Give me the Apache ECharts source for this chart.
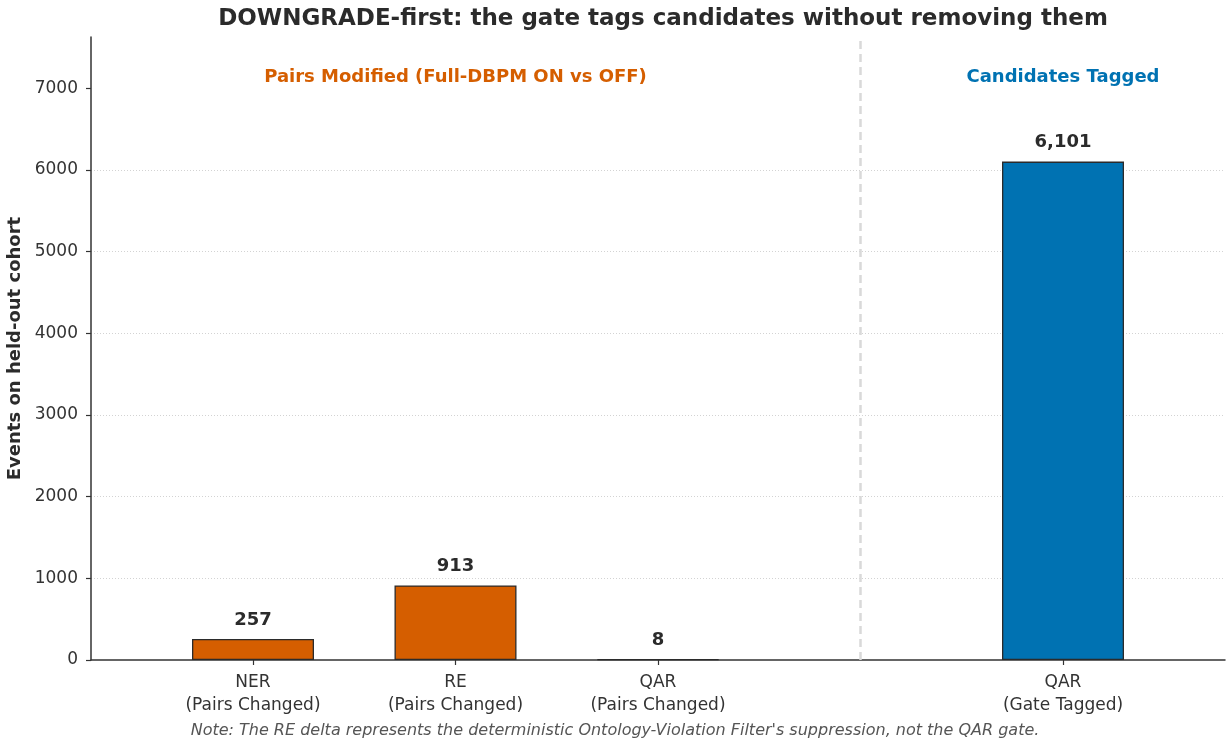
<!DOCTYPE html>
<html>
<head>
<meta charset="utf-8">
<script src="https://cdn.jsdelivr.net/npm/echarts@6/dist/echarts.min.js"></script>
<style>html,body{margin:0;padding:0;background:#fff;}#chart{width:1230px;height:744px;}</style>
</head>
<body>
<div id="chart"></div>
<script>
const categories = ['NER\n(Pairs Changed)', 'RE\n(Pairs Changed)', 'QAR\n(Pairs Changed)', 'QAR\n(Gate Tagged)'];
const positions = [0, 1, 2, 4];
const values = [257, 913, 8, 6101];
const barColors = ['#D55E00', '#D55E00', '#D55E00', '#0072B2'];
const yTicks = [0, 1000, 2000, 3000, 4000, 5000, 6000, 7000];
const groupLabels = ['Pairs Modified (Full-DBPM ON vs OFF)', 'Candidates Tagged'];
const groupPositions = [1, 4];
const groupColors = ['#D55E00', '#0072B2'];
const dividerPos = 3;

const FONT = 'DejaVu Sans';
const chart = echarts.init(document.getElementById('chart'), null, {renderer: 'canvas'});
const yMax = Math.max(...values) * 1.25;

const labelMap = {};
positions.forEach((p, i) => labelMap[p] = categories[i]);

chart.setOption({
  animation: false,
  backgroundColor: '#ffffff',
  textStyle: {fontFamily: FONT},
  title: {
    text: 'DOWNGRADE-first: the gate tags candidates without removing them',
    left: 658, textAlign: 'center', top: 3,
    textStyle: {fontFamily: FONT, fontSize: 23, fontWeight: 'bold', color: '#2b2b2b'}
  },
  graphic: [{
    type: 'text', left: 'center', top: 723,
    style: {
      text: "Note: The RE delta represents the deterministic Ontology-Violation Filter's suppression, not the QAR gate.",
      font: 'italic 16px "DejaVu Sans"', fill: '#555555'
    }
  }],
  grid: {left: 91, right: 5, top: 37, bottom: 84, containLabel: false, outerBoundsMode: 'none'},
  xAxis: {
    type: 'value', min: -0.8, max: 4.8,
    axisLine: {show: true, onZero: false, lineStyle: {color: '#333333', width: 1.5}},
    axisTick: {show: true, customValues: positions, length: 5, lineStyle: {color: '#333333', width: 1.2}},
    axisLabel: {
      customValues: positions,
      formatter: v => labelMap[v] || '',
      color: '#333333', fontSize: 17, lineHeight: 23, margin: 11, fontFamily: FONT
    },
    splitLine: {show: false}
  },
  yAxis: {
    type: 'value', min: 0, max: yMax,
    name: 'Events on held-out cohort', nameLocation: 'middle', nameGap: 65,
    nameTextStyle: {fontFamily: FONT, fontSize: 18, fontWeight: 'bold', color: '#2b2b2b'},
    axisLine: {show: true, onZero: false, lineStyle: {color: '#333333', width: 1.5}},
    axisTick: {show: true, customValues: yTicks, length: 5, lineStyle: {color: '#333333', width: 1.2}},
    axisLabel: {customValues: yTicks, formatter: v => String(v), color: '#333333', fontSize: 17, margin: 13, fontFamily: FONT},
    splitLine: {show: true, showMaxLine: false, showMinLine: false, lineStyle: {color: '#c8c8c8', type: [1, 2], width: 0.8}}
  },
  series: [{
    type: 'bar',
    barWidth: 122,
    data: positions.map((p, i) => ({
      value: [p, values[i]],
      itemStyle: {color: barColors[i], borderColor: '#2b2b2b', borderWidth: 1.3}
    })),
    label: {
      show: true, position: 'top', distance: 10,
      formatter: p => p.value[1].toLocaleString('en-US'),
      fontFamily: FONT, fontSize: 18, fontWeight: 'bold', color: '#2b2b2b'
    },
    markLine: {
      silent: true, symbol: 'none', label: {show: false},
      lineStyle: {color: '#d9d9d9', type: [8, 5], width: 2.5},
      data: [[{coord: [dividerPos, 0]}, {coord: [dividerPos, yMax]}]]
    },
    markPoint: {
      silent: true, symbol: 'circle', symbolSize: 0,
      data: groupLabels.map((t, i) => ({
        coord: [groupPositions[i], 7130],
        label: {show: true, position: 'inside', formatter: t, fontFamily: FONT, fontSize: 18, fontWeight: 'bold', color: groupColors[i]}
      }))
    }
  }]
});
</script>
</body>
</html>
